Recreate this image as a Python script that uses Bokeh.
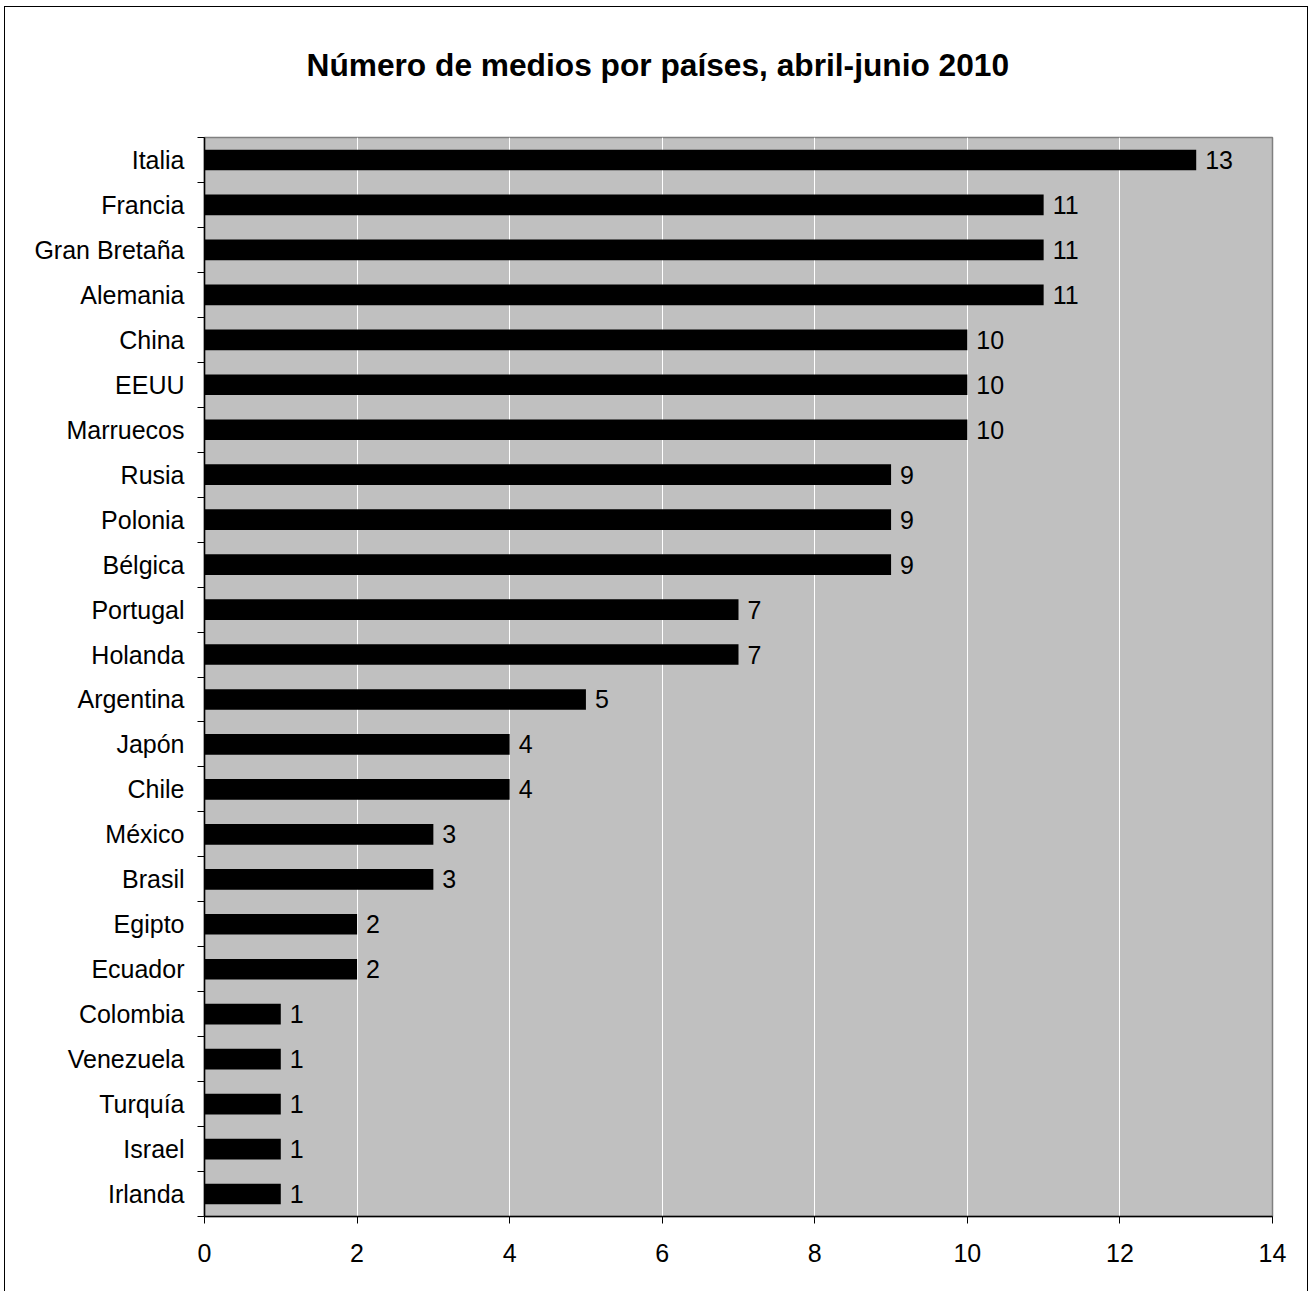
from bokeh.plotting import figure
from bokeh.models import ColumnDataSource, Range1d, FixedTicker
from bokeh.core.properties import value
from bokeh.embed import file_html
from bokeh.resources import INLINE

# Media count per country, April-June 2010
countries = ["Italia", "Francia", "Gran Bretaña", "Alemania", "China", "EEUU",
             "Marruecos", "Rusia", "Polonia", "Bélgica", "Portugal", "Holanda",
             "Argentina", "Japón", "Chile", "México", "Brasil", "Egipto",
             "Ecuador", "Colombia", "Venezuela", "Turquía", "Israel", "Irlanda"]
medios = [13, 11, 11, 11, 10, 10, 10, 9, 9, 9, 7, 7, 5, 4, 4, 3, 3, 2, 2,
          1, 1, 1, 1, 1]
x_ticks = [0, 2, 4, 6, 8, 10, 12, 14]
title_text = "Número de medios por países, abril-junio 2010"

FONT = "Liberation Sans"
n = len(countries)
pos = [i + 0.5 for i in range(n)]

src = ColumnDataSource(dict(
    y=pos,
    v=medios,
    lbl=[str(v) for v in medios],
))

p = figure(width=1302, height=1284,
           x_range=Range1d(0, 14), y_range=Range1d(n, 0),
           output_backend="svg", toolbar_location=None,
           min_border_left=199, min_border_right=35,
           min_border_top=130, min_border_bottom=75,
           background_fill_color="#C0C0C0", border_fill_color="white",
           outline_line_color="#808080", outline_line_width=1.5)
p.margin = (7, 0, 0, 5)
p.styles = {"outline": "1.5px solid black"}

# chart title, with extra room between it and the plot area
p.title.text = title_text
p.title.align = "left"
p.title.vertical_align = "top"
p.title.offset = 102
p.title.standoff = 78
p.title.padding = (0, 0, 0, 14)
p.title.text_font = FONT
p.title.text_font_size = "31.7px"
p.title.text_font_style = "bold"
p.title.text_color = "black"

p.hbar(y="y", left=0, right="v", height=0.46, source=src,
       fill_color="black", line_color=None)
p.text(x="v", y="y", text="lbl", source=src, x_offset=9,
       text_baseline="middle", text_align="left",
       text_font=value(FONT), text_font_size="25px", text_color="black")

# vertical gridlines
p.xgrid.ticker = FixedTicker(ticks=x_ticks)
p.xgrid.grid_line_color = "white"
p.xgrid.grid_line_width = 1
p.ygrid.grid_line_color = None

# x axis
xa = p.xaxis[0]
xa.ticker = FixedTicker(ticks=x_ticks)
xa.axis_line_color = "black"
xa.axis_line_width = 1.5
xa.major_tick_line_color = "black"
xa.major_tick_out = 7
xa.major_tick_in = 0
xa.minor_tick_line_color = None
xa.major_label_standoff = 20
xa.major_label_text_font = FONT
xa.major_label_text_font_size = "25px"
xa.major_label_text_color = "black"

# y axis: names centred on each bar, ticks on category boundaries
ya = p.yaxis[0]
ya.ticker = FixedTicker(ticks=pos, minor_ticks=list(range(n + 1)))
ya.major_label_overrides = {y: c for y, c in zip(pos, countries)}
ya.axis_line_color = "black"
ya.axis_line_width = 1.5
ya.major_tick_line_color = None
ya.major_tick_out = 0
ya.major_tick_in = 0
ya.minor_tick_line_color = "black"
ya.minor_tick_out = 7
ya.minor_tick_in = 0
ya.major_label_standoff = 13
ya.major_label_text_font = FONT
ya.major_label_text_font_size = "25px"
ya.major_label_text_color = "black"

open("out.html", "w").write(file_html(p, INLINE))
